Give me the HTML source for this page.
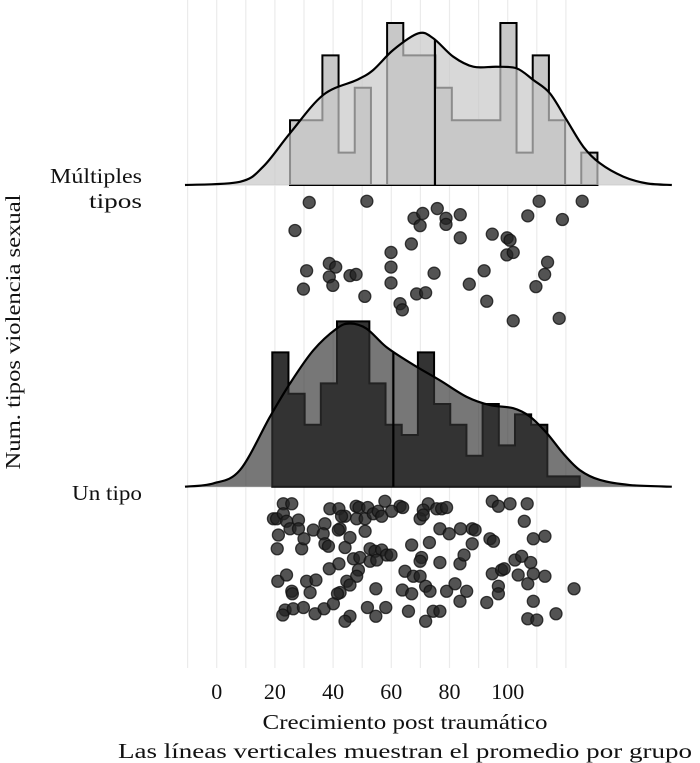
<!DOCTYPE html>
<html><head><meta charset="utf-8">
<style>
html,body{margin:0;padding:0;background:#fff;}
svg{display:block;font-family:"Liberation Serif",serif;}
</style></head>
<body>
<svg id="chart" width="700" height="763" viewBox="0 0 700 763" xmlns="http://www.w3.org/2000/svg">
<g id="grid"></g>
<g id="plot"></g>
<g id="axes"></g>
<text x="142" y="183" text-anchor="end" font-size="21" textLength="92" lengthAdjust="spacingAndGlyphs" fill="#111">Múltiples</text>
<text x="142" y="208" text-anchor="end" font-size="21" textLength="53" lengthAdjust="spacingAndGlyphs" fill="#111">tipos</text>
<text x="142" y="500" text-anchor="end" font-size="21" textLength="70" lengthAdjust="spacingAndGlyphs" fill="#111">Un tipo</text>
<text transform="translate(20,332) rotate(-90)" text-anchor="middle" font-size="21" textLength="275" lengthAdjust="spacingAndGlyphs" fill="#111">Num. tipos violencia sexual</text>
<text x="405" y="729" text-anchor="middle" font-size="21" textLength="285" lengthAdjust="spacingAndGlyphs" fill="#111">Crecimiento post traumático</text>
<text x="405" y="758" text-anchor="middle" font-size="21" textLength="574" lengthAdjust="spacingAndGlyphs" fill="#111">Las líneas verticales muestran el promedio por grupo</text>
</svg>
<script>
// ---- data ----
const xTicks = [0, 20, 40, 60, 80, 100];
const gridVals = [-10,0,10,20,30,40,50,60,70,80,90,100,110,120];
const groups = ["Múltiples tipos", "Un tipo"];
const binWidth = 5.56;
const topBinStart = 25.2;
const topCounts = [2,2,4,1,3,0,5,4,4,3,2,2,2,5,1,4,2,0,1];
const botBinStart = 19.1;
const botCounts = [13,9,6,10,16,16,10,6,5,13,8,6,3,8,4,7,6,1,1];
const topMean = 75.0;
const botMean = 60.7;
const topDensX = [-10.9,8.0,16.0,25.2,36.6,48.1,53.8,60.7,69.3,74.4,81.3,88.2,96.2,103.1,108.8,114.5,120.3,126.0,131.7,139.7,147.8,156.4];
const topDensY = [0,0.1,0.57,1.6,2.78,3.24,3.55,4.17,4.68,4.53,3.96,3.65,3.65,3.6,3.24,2.83,2.0,1.18,0.67,0.26,0.05,0];
const botDensX = [-10.9,-1.16,8.0,18.3,25.2,33.2,41.2,45.8,51.5,58.4,67.6,76.7,85.9,93.9,101.9,107.6,113.4,119.1,124.8,131.7,142.0,156.4];
const botDensY = [0,0.32,1.61,6.77,10.0,13.2,15.3,15.8,15.3,13.5,11.8,10.3,8.7,7.9,7.6,6.8,5.2,3.2,1.6,0.65,0.16,0];
const topPtsX = [31.8,51.6,26.9,67.8,70.8,69.9,75.8,78.8,78.8,83.7,83.7,66.9,59.9,59.9,59.9,30.9,38.7,40.9,38.7,39.9,29.8,45.8,47.9,50.9,63.0,63.8,68.7,71.8,74.7,86.8,91.9,92.8,94.7,99.8,100.8,99.7,101.9,101.9,106.9,110.8,118.8,125.6,113.7,112.7,109.7,117.7];
const topPtsJ = [.02,.01,.25,.15,.11,.21,.07,.15,.2,.12,.31,.36,.43,.55,.68,.58,.52,.55,.63,.7,.73,.62,.61,.79,.85,.9,.77,.76,.6,.69,.58,.83,.28,.31,.33,.45,.43,.99,.13,.01,.16,.01,.51,.61,.71,.97];
const botPtsX = [22.9,25.8,38.9,42.0,47.9,48.9,51.9,57.8,63.0,63.9,72.7,71.0,75.6,77.3,79.0,94.7,96.8,100.8,106.7,
19.5,20.6,22.9,24.0,28.1,37.2,44.1,42.9,48.1,51.0,53.8,55.5,56.7,60.1,69.9,71.0,105.7,
21.2,25.2,28.1,33.2,36.6,42.4,41.8,45.8,51.0,76.7,79.9,83.8,87.8,88.8,93.9,95.1,108.8,112.8,
20.8,29.2,30.0,37.2,38.4,44.1,67.0,73.1,87.8,
47.0,49.2,52.7,54.4,56.7,58.4,59.9,52.7,55.0,70.4,69.9,76.7,83.6,85.0,102.5,104.8,107.9,
38.7,42.0,48.7,21.0,24.0,30.9,34.1,48.1,44.7,64.7,67.6,69.9,94.7,97.9,98.8,103.6,108.8,112.8,106.9,
25.8,26.0,32.1,42.4,41.5,45.8,54.7,63.8,67.0,71.8,73.3,79.0,81.9,85.9,96.8,96.8,122.8,
23.5,22.7,26.3,29.8,33.8,36.9,40.1,45.8,44.1,51.8,54.7,58.1,65.9,71.8,74.4,76.7,83.6,92.8,108.8,106.9,110.0,116.6];
const botPtsJ = [.03,.03,.07,.07,.05,.06,.06,.01,.05,.06,.03,.08,.07,.07,.06,.01,.05,.03,.03,
.15,.15,.11,.17,.16,.19,.13,.13,.15,.15,.11,.09,.13,.09,.15,.12,.17,
.28,.23,.23,.24,.27,.23,.24,.30,.25,.23,.27,.23,.23,.24,.31,.33,.31,.29,
.39,.39,.31,.35,.37,.38,.36,.34,.35,
.47,.46,.39,.41,.40,.44,.44,.49,.48,.46,.49,.50,.51,.44,.48,.45,.50,
.55,.51,.56,.65,.60,.65,.64,.61,.65,.57,.61,.61,.59,.56,.55,.60,.59,.61,.67,
.73,.75,.74,.74,.75,.68,.71,.72,.75,.69,.73,.73,.67,.73,.69,.75,.71,
.88,.92,.87,.86,.91,.87,.83,.93,.97,.86,.93,.86,.89,.97,.89,.89,.81,.82,.81,.95,.96,.91];

// ---- scales ----
const X0 = 216.7, KX = 2.91;
function xs(v){ return X0 + v*KX; }
const TOP = {base:185, unit:32.4, ptTop:200, ptH:122};
const BOT = {base:486.7, unit:10.33, ptTop:500, ptH:125};
const NS = "http://www.w3.org/2000/svg";
function mk(tag, attrs, parent){ const e=document.createElementNS(NS,tag); for(const k in attrs) e.setAttribute(k,attrs[k]); parent.appendChild(e); return e; }
const grid=document.getElementById('grid'), plot=document.getElementById('plot'), axes=document.getElementById('axes');

gridVals.forEach(v=>{
  const l=mk('line',{x1:xs(v),x2:xs(v),y1:0,y2:668,stroke:'#ebebeb','stroke-width':1.2},grid);
  
  
});
[TOP.base,BOT.base].forEach(y=>{
  const l=mk('line',{x1:185,x2:672,y1:y,y2:y,stroke:'#e4e4e4','stroke-width':1.5},grid);
  
  
});

function interp(xa,ya,v){
  for(let i=0;i<xa.length-1;i++){ if(v>=xa[i]&&v<=xa[i+1]){ const t=(v-xa[i])/(xa[i+1]-xa[i]); return ya[i]+t*(ya[i+1]-ya[i]); } }
  return 0;
}
function smoothPath(pts){
  let d=`M${pts[0][0]},${pts[0][1]}`;
  for(let i=0;i<pts.length-1;i++){
    const p0=pts[Math.max(i-1,0)],p1=pts[i],p2=pts[i+1],p3=pts[Math.min(i+2,pts.length-1)];
    const c1=[p1[0]+(p2[0]-p0[0])/6,p1[1]+(p2[1]-p0[1])/6];
    const c2=[p2[0]-(p3[0]-p1[0])/6,p2[1]-(p3[1]-p1[1])/6];
    d+=` C${c1[0]},${c1[1]} ${c2[0]},${c2[1]} ${p2[0]},${p2[1]}`;
  }
  return d;
}

function drawGroup(cfg, name, start, counts, dx, dy, mean, px, pj, barFill, densFill, densOp){
  const g=mk('g',{},plot);
  
  
  let d=`M${xs(start)},${cfg.base}`;
  counts.forEach((c,i)=>{
    const x1=xs(start+i*binWidth), x2=xs(start+(i+1)*binWidth), y=cfg.base-c*cfg.unit;
    d+=` L${x1},${y} L${x2},${y}`;
  });
  d+=` L${xs(start+counts.length*binWidth)},${cfg.base} Z`;
  const h=mk('path',{d:d,fill:barFill,stroke:'#000','stroke-width':2,'stroke-linejoin':'miter'},g);
  
  
  const pts=dx.map((v,i)=>[xs(v),cfg.base-dy[i]*cfg.unit]);
  const curve=smoothPath(pts);
  const area=mk('path',{d:curve+` L${pts[pts.length-1][0]},${cfg.base} L${pts[0][0]},${cfg.base} Z`,fill:densFill,'fill-opacity':densOp},g);
  
  
  const ln=mk('path',{d:curve,fill:'none',stroke:'#000','stroke-width':2.2},g);
  
  
  const mh=interp(dx,dy,mean)*cfg.unit;
  const ml=mk('line',{x1:xs(mean),x2:xs(mean),y1:cfg.base,y2:cfg.base-mh,stroke:'#000','stroke-width':2.2},g);
  
  
  px.forEach((v,i)=>{
    const c=mk('circle',{cx:xs(v),cy:cfg.ptTop+pj[i]*cfg.ptH,r:6,fill:'#222','fill-opacity':0.78,stroke:'#111','stroke-opacity':0.8,'stroke-width':1.3},g);
    
    
  });
}
drawGroup(TOP,'multiples-tipos',topBinStart,topCounts,topDensX,topDensY,topMean,topPtsX,topPtsJ,'#c8c8c8','#c8c8c8',0.7);
drawGroup(BOT,'un-tipo',botBinStart,botCounts,botDensX,botDensY,botMean,botPtsX,botPtsJ,'#333333','#333333',0.667);

xTicks.forEach(v=>{
  const t=mk('text',{x:xs(v),y:699,'text-anchor':'middle','font-size':22,fill:'#111'},axes);
  t.textContent=v;
  
  
});
</script>
</body></html>
